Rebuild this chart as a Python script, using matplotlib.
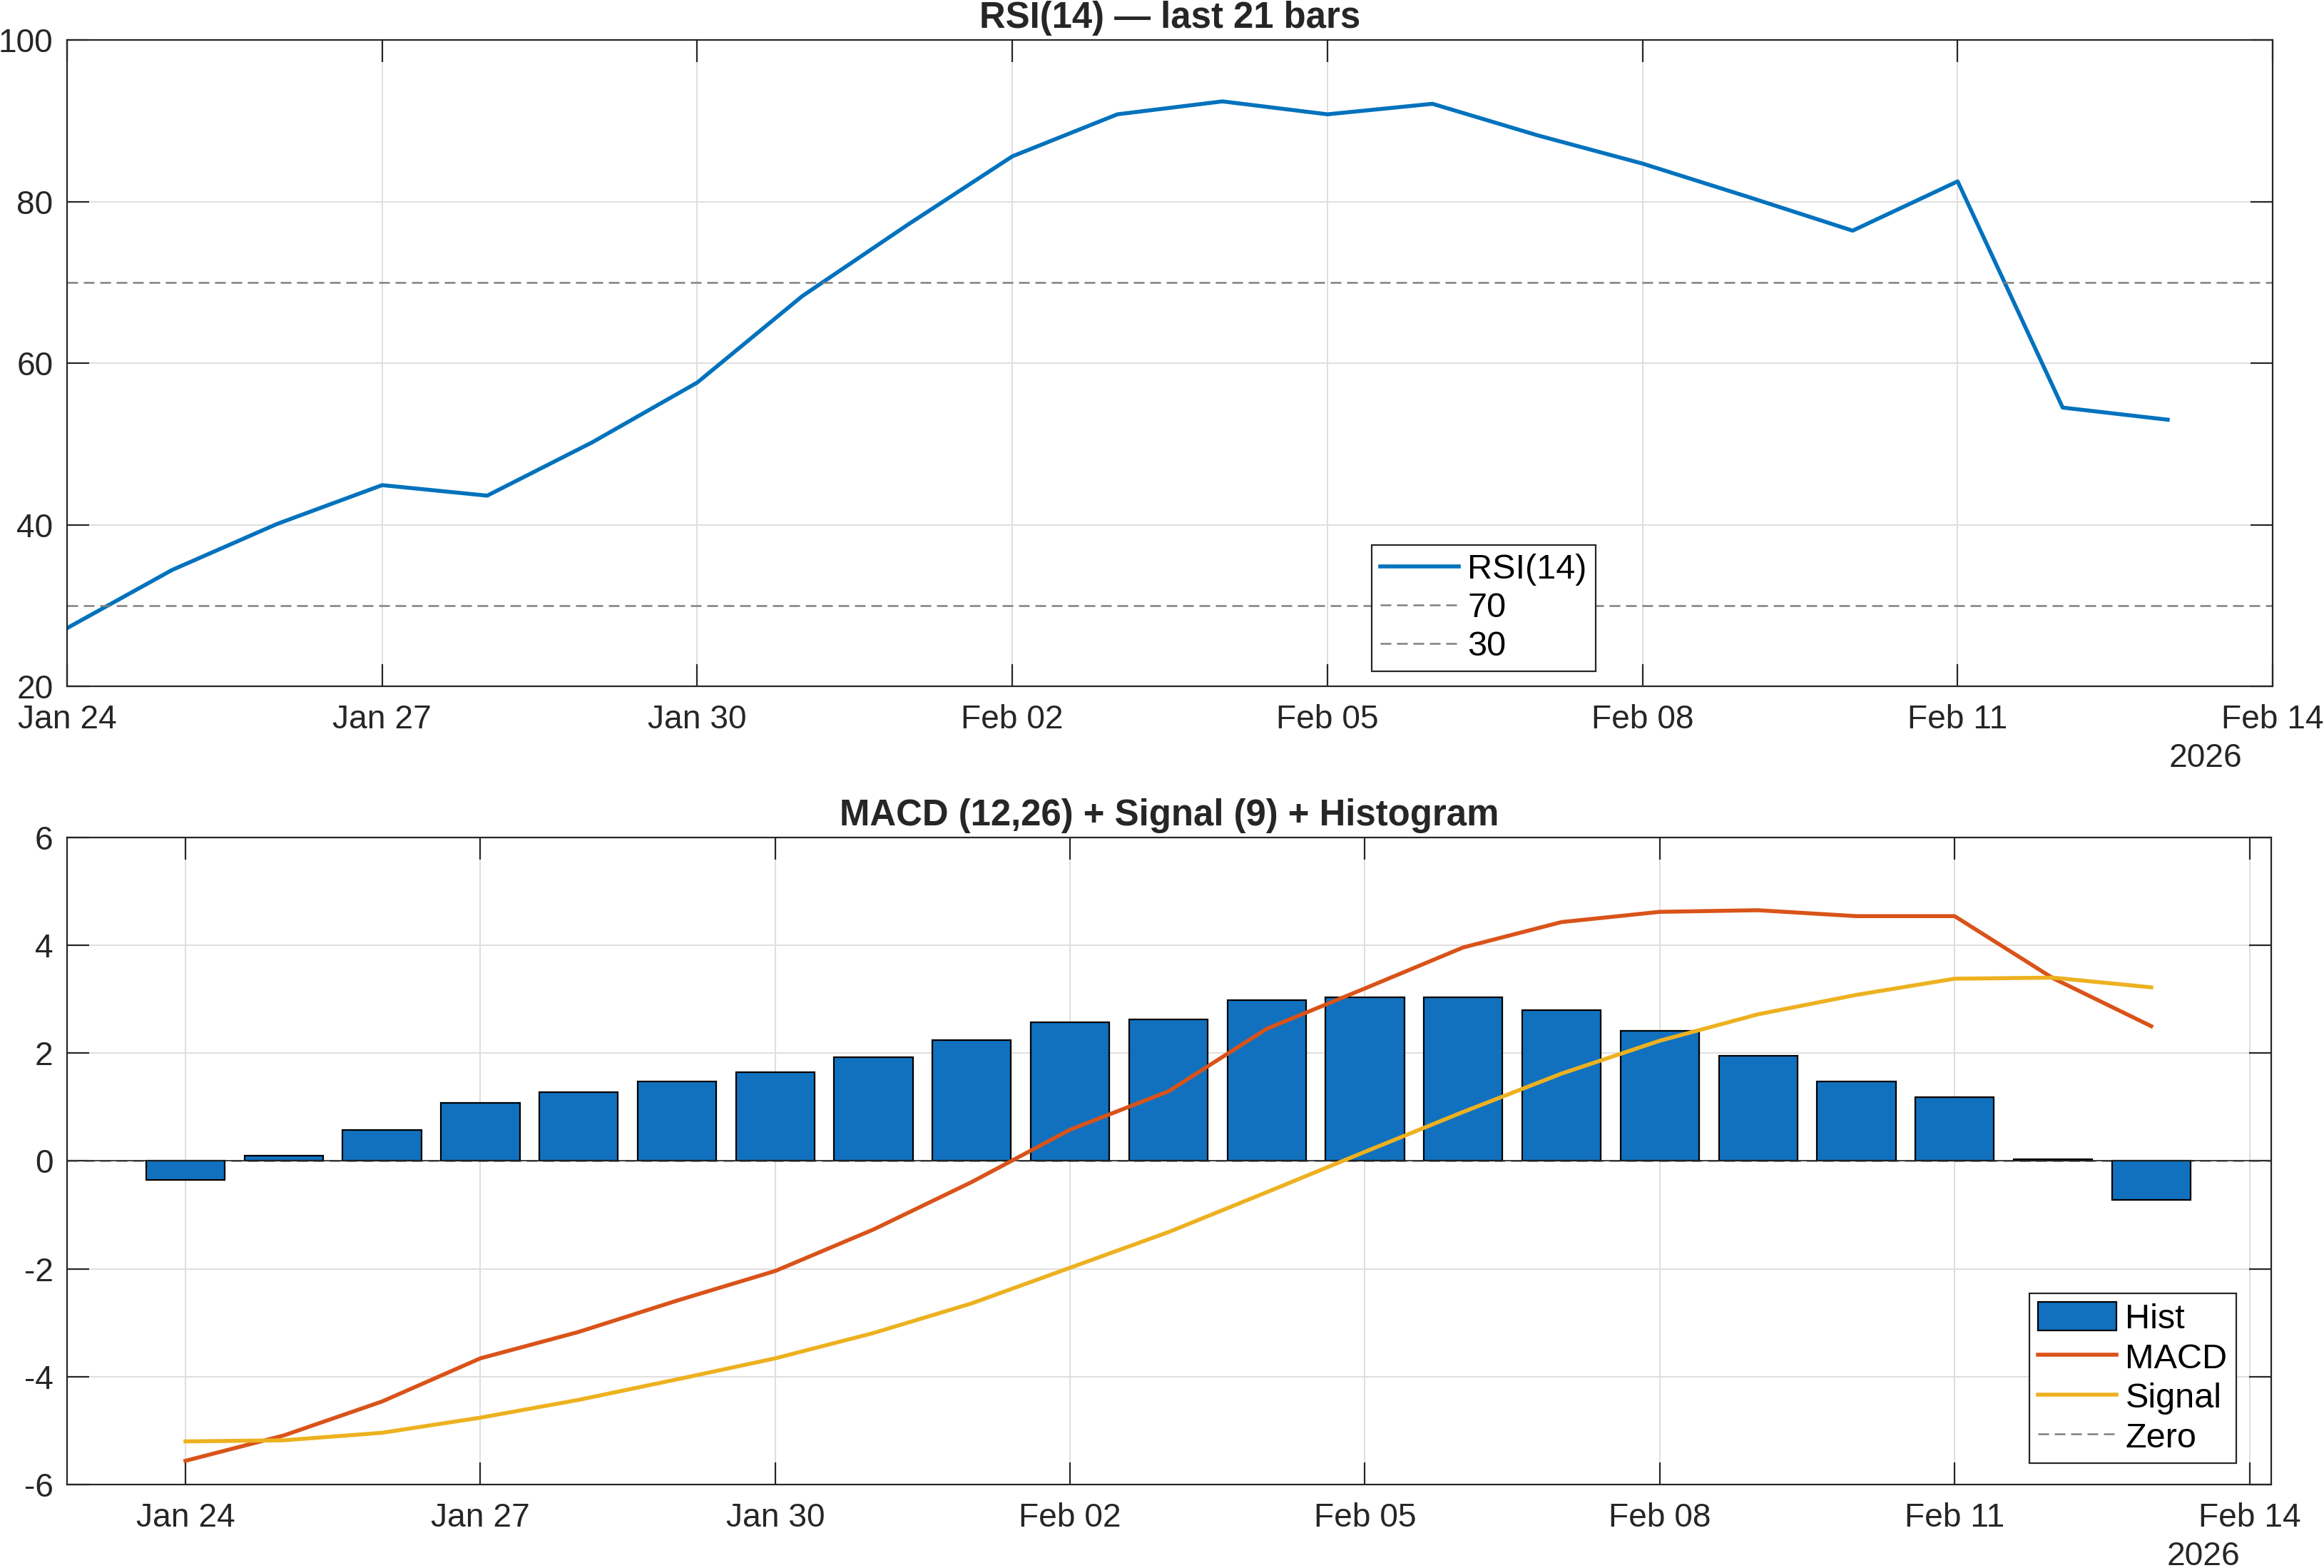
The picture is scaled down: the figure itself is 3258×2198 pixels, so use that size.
#import dependencies
import pandas as pd
import matplotlib
matplotlib.use("Agg")
import matplotlib.pyplot as plt
import matplotlib.dates as mdates
from datetime import timedelta

plt.rcParams['font.family'] = ['Liberation Sans', 'DejaVu Sans']
plt.rcParams['axes.unicode_minus'] = False

#Data: 21 daily bars
dates = pd.date_range("2026-01-24", "2026-02-13", freq="D")
rsi = [27.2, 34.4, 40.1, 44.9, 43.6, 50.2, 57.6, 68.3, 77.1, 85.6, 90.8,
       92.4, 90.8, 92.1, 88.2, 84.7, 80.6, 76.4, 82.5, 54.5, 53.0]
macd = [-5.56, -5.09, -4.46, -3.66, -3.17, -2.59, -2.04, -1.27, -0.39, 0.58, 1.29,
        2.45, 3.20, 3.96, 4.43, 4.62, 4.65, 4.54, 4.54, 3.39, 2.50]
signal = [-5.20, -5.18, -5.04, -4.76, -4.43, -4.05, -3.66, -3.19, -2.64, -1.98, -1.32,
          -0.58, 0.17, 0.91, 1.62, 2.23, 2.72, 3.08, 3.38, 3.40, 3.22]
hist = [-0.35, 0.10, 0.58, 1.08, 1.27, 1.47, 1.65, 1.92, 2.24, 2.57, 2.63,
        2.98, 3.03, 3.03, 2.80, 2.42, 1.95, 1.47, 1.18, 0.03, -0.72]
tick_dates = pd.date_range("2026-01-24", "2026-02-14", freq="3D")
rsi_levels = [70, 30]

#MATLAB-ish colors
blue = "#0072BD"
bar_blue = "#1171BE"
orange = "#D95319"
yellow = "#EDB120"
dark = "#262626"
grey = "#808080"

fs_tick = 16.6
fs_leg = 17.5
fs_title = 18.3


def style_axes(ax):
    ax.grid(True, color="#dfdfdf", linewidth=0.7)
    ax.set_axisbelow(True)
    for s in ax.spines.values():
        s.set_color(dark)
        s.set_linewidth(0.8)
    ax.tick_params(direction="in", top=True, right=True, length=11, width=0.8,
                   color=dark, labelcolor=dark, labelsize=fs_tick)
    ax.tick_params(axis="x", pad=9)
    ax.tick_params(axis="y", pad=7)
    ax.set_xticks(tick_dates)
    ax.xaxis.set_major_formatter(mdates.DateFormatter("%b %d"))
    ax.text(0.986, -0.125, "2026", transform=ax.transAxes, ha="right", va="baseline",
            fontsize=fs_tick, color=dark)


fig = plt.figure(figsize=(16.29, 10.99), dpi=200)

#RSI panel
ax1 = fig.add_axes([0.02885, 0.5623, 0.9491, 0.4122])
ax1.plot(dates, rsi, color=blue, linewidth=2.0, label="RSI(14)")
for lvl in rsi_levels:
    ax1.axhline(lvl, color=grey, linestyle=(0, (6, 3.2)), linewidth=0.9, label=str(lvl))
ax1.set_xlim(dates[0], dates[0] + timedelta(days=21))
ax1.set_ylim(20, 100)
ax1.set_yticks([20, 40, 60, 80, 100])
style_axes(ax1)
ax1.set_title("RSI(14) \u2014 last 21 bars", fontsize=fs_title, fontweight="bold",
              color=dark, pad=6)
leg1 = ax1.legend(loc="lower left", bbox_to_anchor=(0.5915, 0.0232), borderaxespad=0,
                  fontsize=fs_leg, fancybox=False, framealpha=1, edgecolor=dark,
                  handlelength=2.26, handletextpad=0.25, borderpad=0.25, labelspacing=0.18)
leg1.get_frame().set_linewidth(0.8)

#MACD panel
ax2 = fig.add_axes([0.02885, 0.05323, 0.9484, 0.4127])
ax2.axhline(0, color=grey, linestyle=(0, (6, 3.2)), linewidth=0.9, label="Zero", zorder=1)
ax2.bar(dates, hist, width=0.8, color=bar_blue, edgecolor="black", linewidth=0.8,
        label="Hist", zorder=2)
ax2.axhline(0, color=dark, linewidth=0.6, zorder=2.5)
ax2.plot(dates, macd, color=orange, linewidth=2.0, label="MACD", zorder=3)
ax2.plot(dates, signal, color=yellow, linewidth=2.0, label="Signal", zorder=3)
ax2.set_xlim(dates[0] - timedelta(days=1.205), dates[-1] + timedelta(days=1.22))
ax2.set_ylim(-6, 6)
ax2.set_yticks([-6, -4, -2, 0, 2, 4, 6])
style_axes(ax2)
ax2.set_title("MACD (12,26) + Signal (9) + Histogram", fontsize=fs_title,
              fontweight="bold", color=dark, pad=6)
h, l = ax2.get_legend_handles_labels()
order = [l.index(k) for k in ["Hist", "MACD", "Signal", "Zero"]]
leg2 = ax2.legend([h[i] for i in order], [l[i] for i in order], loc="lower right",
                  bbox_to_anchor=(0.9841, 0.033), borderaxespad=0, fontsize=fs_leg,
                  fancybox=False, framealpha=1, edgecolor=dark, handlelength=2.26,
                  handleheight=0.9, handletextpad=0.25, borderpad=0.25, labelspacing=0.18)
leg2.get_frame().set_linewidth(0.8)

plt.savefig("out.png", dpi=200, facecolor="white")
plt.close()
